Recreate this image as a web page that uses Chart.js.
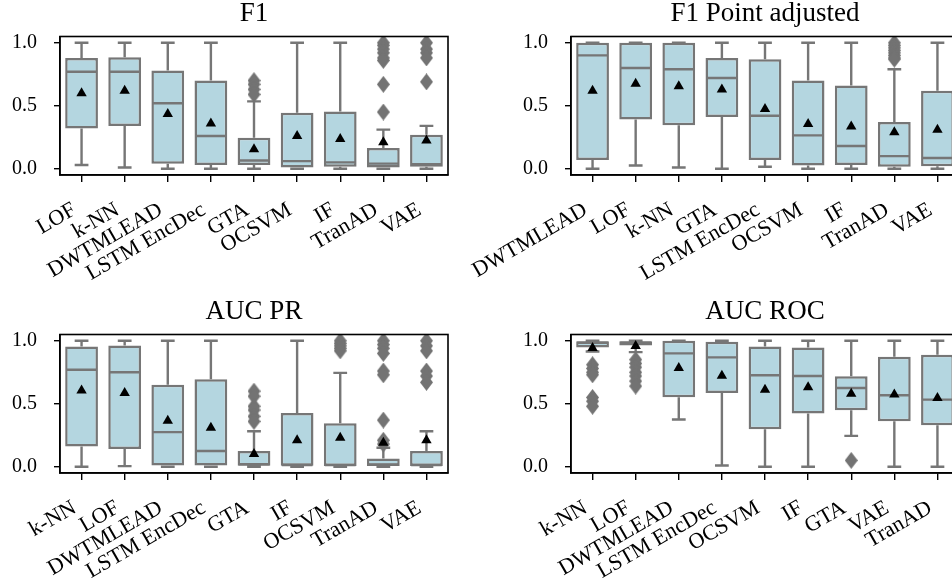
<!DOCTYPE html>
<html>
<head>
<meta charset="utf-8">
<script src="https://cdn.jsdelivr.net/npm/chart.js@4.4.1/dist/chart.umd.min.js"></script>
<style>
  html, body { margin: 0; padding: 0; background: #fff; overflow: hidden; width: 952px; height: 578px; }
  canvas { position: absolute; }
</style>
</head>
<body>
<canvas id="f1" width="460" height="290" style="left:0px;top:0px;width:460px;height:290px"></canvas>
<canvas id="f1pa" width="570" height="290" style="left:401px;top:0px;width:570px;height:290px"></canvas>
<canvas id="aucpr" width="460" height="290" style="left:0px;top:298px;width:460px;height:290px"></canvas>
<canvas id="aucroc" width="570" height="290" style="left:401px;top:298px;width:570px;height:290px"></canvas>
<script>
// F1
const f1Labels = ['LOF', 'k-NN', 'DWTMLEAD', 'LSTM EncDec', 'GTA', 'OCSVM', 'IF', 'TranAD', 'VAE'];
const f1Low  = [0.03, 0.01, 0.0, 0.0, 0.0, 0.0, 0.0, 0.0, 0.0];
const f1Q1   = [0.32, 0.34, 0.04, 0.03, 0.03, 0.01, 0.015, 0.01, 0.015];
const f1Med  = [0.77, 0.77, 0.52, 0.26, 0.065, 0.06, 0.05, 0.04, 0.035];
const f1Q3   = [0.88, 0.885, 0.78, 0.70, 0.245, 0.445, 0.455, 0.165, 0.27];
const f1High = [1.0, 1.0, 1.0, 1.0, 0.535, 1.0, 1.0, 0.31, 0.34];
const f1Mean = [0.60, 0.62, 0.435, 0.36, 0.155, 0.26, 0.235, 0.21, 0.225];
const f1Out  = [[], [], [], [], [0.70, 0.67, 0.63, 0.59], [], [],
                [1.0, 0.98, 0.95, 0.92, 0.88, 0.86, 0.67, 0.45], [1.0, 0.95, 0.92, 0.88, 0.69]];

// F1 Point adjusted
const paLabels = ['DWTMLEAD', 'LOF', 'k-NN', 'GTA', 'LSTM EncDec', 'OCSVM', 'IF', 'TranAD', 'VAE'];
const paLow  = [0.0, 0.025, 0.01, 0.0, 0.015, 0.0, 0.0, 0.0, 0.0];
const paQ1   = [0.07, 0.39, 0.345, 0.41, 0.07, 0.025, 0.03, 0.015, 0.02];
const paMed  = [0.90, 0.80, 0.79, 0.72, 0.42, 0.265, 0.18, 0.10, 0.085];
const paQ3   = [1.0, 1.0, 1.0, 0.88, 0.87, 0.70, 0.66, 0.37, 0.62];
const paHigh = [1.0, 1.0, 1.0, 1.0, 1.0, 1.0, 1.0, 0.79, 1.0];
const paMean = [0.62, 0.675, 0.655, 0.63, 0.475, 0.355, 0.335, 0.29, 0.31];
const paOut  = [[], [], [], [], [], [], [], [1.0, 0.98, 0.96, 0.94, 0.92, 0.90, 0.88, 0.87], []];

// AUC PR
const prLabels = ['k-NN', 'LOF', 'DWTMLEAD', 'LSTM EncDec', 'GTA', 'IF', 'OCSVM', 'TranAD', 'VAE'];
const prLow  = [0.0, 0.005, 0.0, 0.0, 0.0, 0.0, 0.0, 0.0, 0.0];
const prQ1   = [0.16, 0.14, 0.01, 0.01, 0.008, 0.008, 0.005, 0.005, 0.005];
const prMed  = [0.77, 0.75, 0.275, 0.125, 0.02, 0.013, 0.013, 0.018, 0.013];
const prQ3   = [0.955, 0.963, 0.65, 0.695, 0.124, 0.427, 0.346, 0.066, 0.124];
const prHigh = [1.0, 1.0, 1.0, 1.0, 0.282, 1.0, 0.745, 0.15, 0.282];
const prMean = [0.605, 0.585, 0.365, 0.31, 0.10, 0.21, 0.23, 0.19, 0.21];
const prOut  = [[], [], [], [], [0.60, 0.56, 0.48, 0.45, 0.40, 0.36], [],
                [1.0, 0.98, 0.96, 0.94, 0.92],
                [1.0, 0.97, 0.94, 0.90, 0.76, 0.73, 0.37, 0.21, 0.18],
                [1.0, 0.96, 0.92, 0.76, 0.72, 0.67]];

// AUC ROC
const rocLabels = ['k-NN', 'LOF', 'DWTMLEAD', 'LSTM EncDec', 'OCSVM', 'IF', 'GTA', 'VAE', 'TranAD'];
const rocLow  = [0.915, 0.91, 0.375, 0.01, 0.0, 0.0, 0.245, 0.0, 0.0];
const rocQ1   = [0.947, 0.962, 0.551, 0.586, 0.298, 0.422, 0.449, 0.361, 0.33];
const rocMed  = [0.985, 0.985, 0.90, 0.868, 0.726, 0.72, 0.625, 0.567, 0.533];
const rocQ3   = [0.997, 0.997, 1.0, 0.992, 0.955, 0.947, 0.718, 0.873, 0.889];
const rocHigh = [1.0, 1.0, 1.0, 1.0, 1.0, 1.0, 1.0, 1.0, 1.0];
const rocMean = [0.942, 0.958, 0.784, 0.723, 0.612, 0.631, 0.58, 0.573, 0.546];
const rocOut  = [[0.81, 0.78, 0.75, 0.73, 0.55, 0.52, 0.48], [0.85, 0.82, 0.79, 0.75, 0.72, 0.68, 0.64],
                 [], [], [], [], [0.05], [], []];

const yTicks = [0, 0.5, 1.0];

const FONT = "'Liberation Serif', 'Times New Roman', serif";
const BOX_FILL = '#b4d6e0';
const EDGE = '#767676';

function diamond(w, h, color) {
    const c = document.createElement('canvas');
    c.width = w; c.height = h;
    const g = c.getContext('2d');
    g.fillStyle = color;
    g.beginPath();
    g.moveTo(w / 2, 0); g.lineTo(w, h / 2); g.lineTo(w / 2, h); g.lineTo(0, h / 2);
    g.closePath();
    g.fill();
    return c;
}
const flier = diamond(13, 17, '#737373');

// whiskers, caps, medians and the frame
const boxDetails = {
    id: 'boxDetails',
    afterDatasetDraw(chart, args, opts) {
        if (args.index !== 0) return;
        const xs = chart.scales.x, ys = chart.scales.y, ctx = chart.ctx;
        const bars = chart.getDatasetMeta(0).data;
        ctx.save();
        ctx.strokeStyle = EDGE;
        ctx.lineWidth = 2.4;
        ctx.lineCap = 'butt';
        bars.forEach((bar, i) => {
            const cx = xs.getPixelForValue(i);
            const half = bar.width / 2;
            const cap = half * 0.42;
            const yl = ys.getPixelForValue(opts.low[i]), y1 = ys.getPixelForValue(opts.q1[i]);
            const y3 = ys.getPixelForValue(opts.q3[i]), yh = ys.getPixelForValue(opts.high[i]);
            const ym = ys.getPixelForValue(opts.med[i]);
            ctx.beginPath();
            ctx.moveTo(cx, y1); ctx.lineTo(cx, yl);
            ctx.moveTo(cx, y3); ctx.lineTo(cx, yh);
            ctx.moveTo(cx - cap, yl); ctx.lineTo(cx + cap, yl);
            ctx.moveTo(cx - cap, yh); ctx.lineTo(cx + cap, yh);
            ctx.moveTo(cx - half + 1, ym); ctx.lineTo(cx + half - 1, ym);
            ctx.stroke();
        });
        ctx.restore();
    },
    afterDraw(chart) {
        const a = chart.chartArea, ctx = chart.ctx;
        ctx.save();
        ctx.strokeStyle = '#000';
        ctx.lineWidth = 1.6;
        ctx.strokeRect(a.left, a.top, a.right - a.left, a.bottom - a.top);
        ctx.restore();
    }
};

function makeBox(id, title, labels, low, q1, med, q3, high, mean, out, padLeft) {
    const fliers = [];
    out.forEach((vals, i) => vals.forEach(v => fliers.push({x: labels[i], y: v})));
    new Chart(document.getElementById(id), {
        type: 'bar',
        data: {
            labels: labels,
            datasets: [{
                type: 'bar',
                data: q1.map((v, i) => [v, q3[i]]),
                backgroundColor: BOX_FILL,
                borderColor: EDGE,
                borderWidth: 2.5,
                borderSkipped: false,
                barPercentage: 0.76,
                categoryPercentage: 1.0,
                order: 3
            }, {
                type: 'scatter',
                data: fliers,
                pointStyle: flier,
                order: 2
            }, {
                type: 'scatter',
                data: mean.map((v, i) => ({x: labels[i], y: v})),
                pointStyle: 'triangle',
                pointRadius: 6,
                backgroundColor: '#000',
                borderColor: '#000',
                borderWidth: 0,
                order: 1
            }]
        },
        options: {
            responsive: false,
            animation: false,
            events: [],
            layout: { padding: { left: padLeft, right: 12, top: 0, bottom: 0 } },
            scales: {
                x: {
                    type: 'category',
                    offset: true,
                    grid: { offset: false, drawOnChartArea: false, tickLength: 7, color: '#000', lineWidth: 1.4 },
                    border: { display: true, color: '#000', width: 1.4 },
                    ticks: {
                        autoSkip: false, minRotation: 30, maxRotation: 30,
                        padding: 15, labelOffset: -7,
                        color: '#000', font: { family: FONT, size: 22 }
                    },
                    afterFit(s) { s.height = 115; s.paddingLeft = 0; s.paddingRight = 0; }
                },
                y: {
                    min: -0.05, max: 1.05,
                    afterBuildTicks(s) { s.ticks = yTicks.map(v => ({value: v})); },
                    grid: { drawOnChartArea: false, tickLength: 6, color: '#000', lineWidth: 1.4 },
                    border: { display: true, color: '#000', width: 1.4 },
                    ticks: {
                        padding: 17, color: '#000', font: { family: FONT, size: 20 },
                        callback: v => v.toFixed(1)
                    },
                    afterFit(s) { s.width = 60; }
                }
            },
            plugins: {
                legend: { display: false },
                tooltip: { enabled: false },
                title: {
                    display: true, text: title, fullSize: false, color: '#000',
                    font: { family: FONT, size: 27, weight: 'normal', lineHeight: 1.0 },
                    padding: { top: 0, bottom: 9.5 }
                },
                boxDetails: { low: low, q1: q1, med: med, q3: q3, high: high }
            }
        },
        plugins: [boxDetails]
    });
}

makeBox('f1', 'F1', f1Labels, f1Low, f1Q1, f1Med, f1Q3, f1High, f1Mean, f1Out, 0);
makeBox('f1pa', 'F1 Point adjusted', paLabels, paLow, paQ1, paMed, paQ3, paHigh, paMean, paOut, 110);
makeBox('aucpr', 'AUC PR', prLabels, prLow, prQ1, prMed, prQ3, prHigh, prMean, prOut, 0);
makeBox('aucroc', 'AUC ROC', rocLabels, rocLow, rocQ1, rocMed, rocQ3, rocHigh, rocMean, rocOut, 110);
</script>
</body>
</html>
